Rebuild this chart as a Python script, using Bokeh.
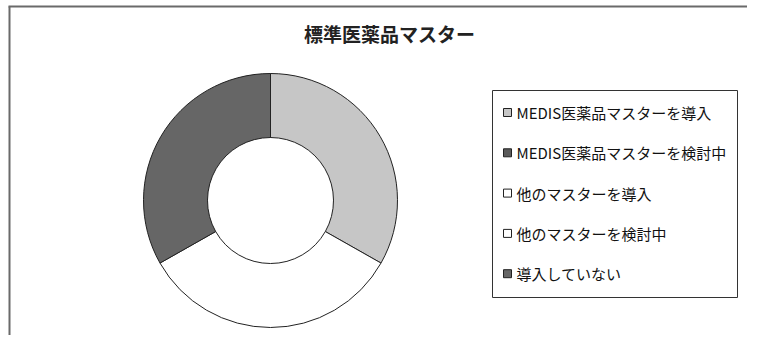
import math
from bokeh.plotting import figure
from bokeh.models import Range1d, ColumnDataSource
from bokeh.core.properties import value
from bokeh.embed import file_html
from bokeh.resources import INLINE

# ---- data ----
title = "標準医薬品マスター"
categories = ["MEDIS医薬品マスターを導入", "MEDIS医薬品マスターを検討中",
              "他のマスターを導入", "他のマスターを検討中", "導入していない"]
shares = [33.2, 0.0, 33.6, 0.0, 33.2]
colors = ["#c6c6c6", "#5a5a5a", "#ffffff", "#ffffff", "#666666"]

FONT = "Noto Sans CJK JP"
W, H = 747, 335
# data coords = reference pixel coords (x), y flipped: y_data = 351 - y_ref
p = figure(width=W, height=H, output_backend="svg", toolbar_location=None,
           x_range=Range1d(0, W), y_range=Range1d(351 - H, 351),
           min_border=0)
p.xaxis.visible = False
p.yaxis.visible = False
p.grid.visible = False
p.outline_line_color = None
p.background_fill_color = "white"
p.border_fill_color = "white"

def Y(yref):
    return 351 - yref

# ---- chart border (top and left edges visible) ----
p.segment(x0=[8, 9], y0=[Y(6), Y(6)], x1=[W, 9], y1=[Y(6), 351 - H],
          line_color="#6a6a6a", line_width=2)

# ---- donut ----
cx, cy = 270, Y(200)
total = sum(shares)
starts, ends, fills = [], [], []
cum = 0.0
for s, c in zip(shares, colors):
    a0 = math.pi / 2 - 2 * math.pi * cum / total
    cum += s
    a1 = math.pi / 2 - 2 * math.pi * cum / total
    if s > 0:
        starts.append(a0)
        ends.append(a1)
        fills.append(c)
src = ColumnDataSource(dict(start=starts, end=ends, color=fills))
p.annular_wedge(x=cx, y=cy, inner_radius=63, outer_radius=127,
                inner_radius_units="screen", outer_radius_units="screen",
                start_angle="start", end_angle="end", direction="clock",
                fill_color="color", line_color="#222222", line_width=1,
                source=src)

# ---- title ----
p.text(x=[389], y=[Y(33)], text=[title], text_font=value(FONT),
       text_font_size="19px", text_font_style="bold", text_color="#222222",
       text_align="center", text_baseline="middle")

# ---- legend ----
p.quad(left=[492], right=[737], top=[Y(90)], bottom=[Y(297)],
       fill_color="white", line_color="#333333", line_width=1)
ly = [Y(112 + 40.3 * i) for i in range(len(categories))]
leg = ColumnDataSource(dict(y=ly, label=categories, color=colors,
                            mx=[507] * len(categories), tx=[516] * len(categories)))
p.scatter(x="mx", y="y", marker="square", size=8, fill_color="color",
          line_color="#222222", line_width=1, source=leg)
p.text(x="tx", y="y", text="label", text_font=value(FONT), text_font_size="15px",
       text_color="#111111", text_align="left", text_baseline="middle", source=leg)

open("out.html", "w").write(file_html(p, INLINE))
